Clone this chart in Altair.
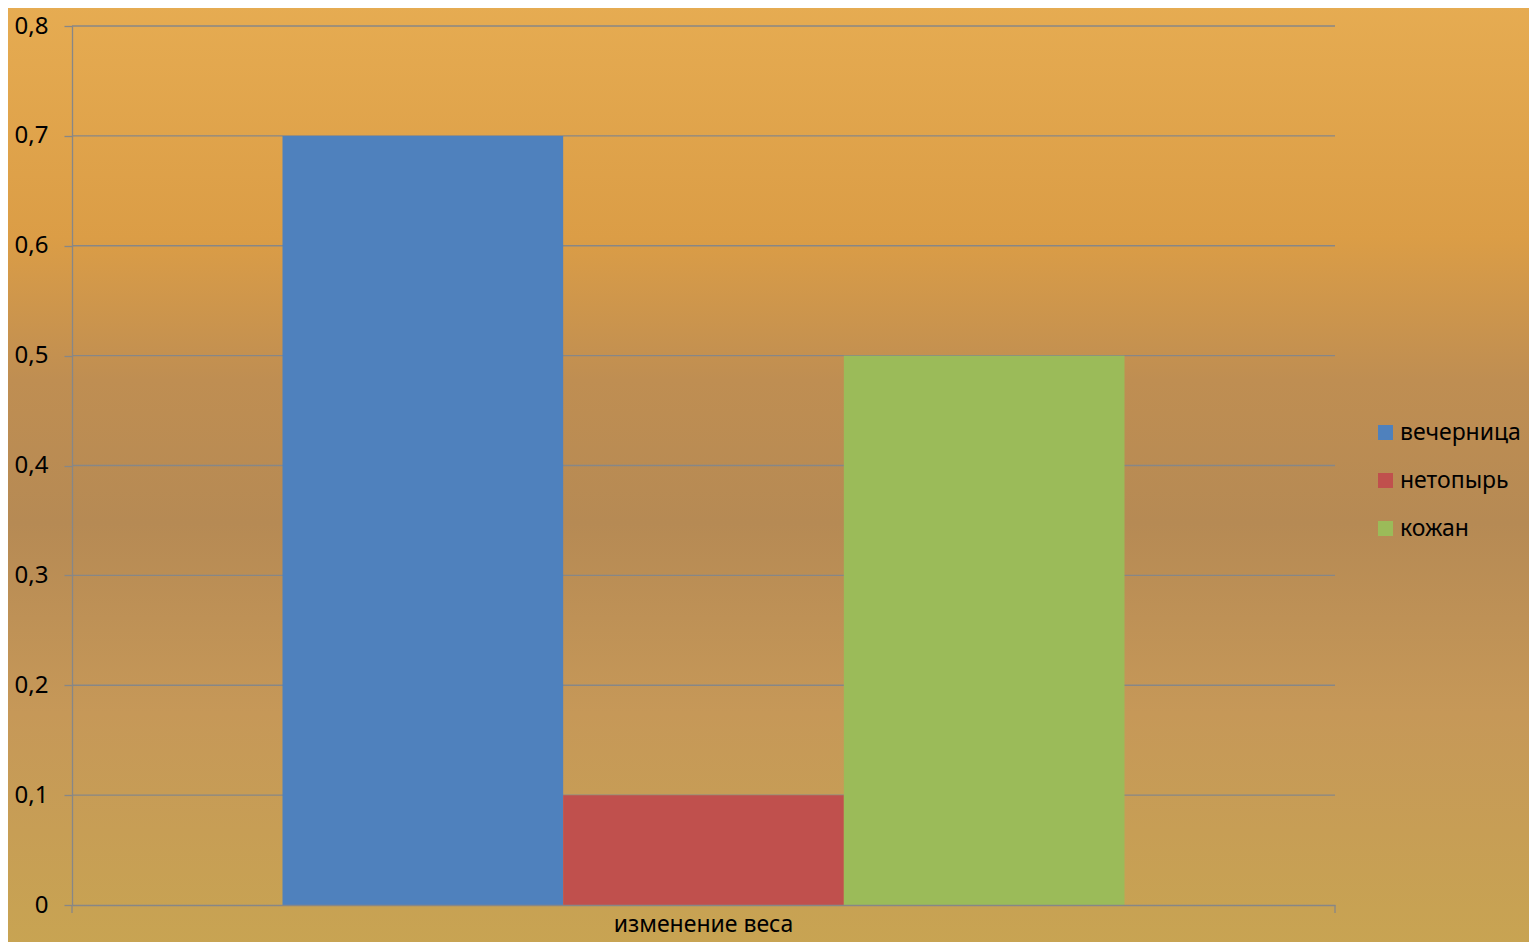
import altair as alt
import pandas as pd

category = ["изменение веса"]
series = ["вечерница", "нетопырь", "кожан"]
values = [0.7, 0.1, 0.5]
colors = ["#4F81BD", "#C0504D", "#9BBB59"]
y_ticks = [0, 0.1, 0.2, 0.3, 0.4, 0.5, 0.6, 0.7, 0.8]

df = pd.DataFrame({"cat": category * len(series), "series": series, "value": values})
ticks_df = pd.DataFrame({"t": y_ticks[1:]})

W, H = 1263, 879
PAD = {"left": 64, "top": 18, "right": 194, "bottom": 37}
FONT = "Noto Sans"
GRID = "#878787"

yscale = alt.Scale(domain=[0, 0.8], nice=False, zero=True)
yaxis = alt.Axis(values=y_ticks, grid=False, tickSize=8, tickColor=GRID, tickWidth=1.3,
                 domainColor=GRID, domainWidth=1.3, labelPadding=16, zindex=1,
                 labelFontSize=24, labelFont=FONT, labelColor="#000000",
                 labelExpr="datum.value == 0 ? '0' : replace(format(datum.value, '.1f'), '.', ',')")

bg = alt.Chart(pd.DataFrame({"a": [0]})).mark_rect(
    clip=False,
    fill=alt.Gradient(
        gradient="linear", x1=0, x2=0, y1=0, y2=1,
        stops=[
            alt.GradientStop(offset=0, color="#E6AC52"),
            alt.GradientStop(offset=0.25, color="#DB9D46"),
            alt.GradientStop(offset=0.4, color="#BF8E52"),
            alt.GradientStop(offset=0.55, color="#B68A54"),
            alt.GradientStop(offset=0.75, color="#C69858"),
            alt.GradientStop(offset=1, color="#C8A452"),
        ],
    ),
).encode(
    x=alt.value(-PAD["left"] - 8), x2=alt.value(W + PAD["right"] + 8),
    y=alt.value(-PAD["top"] - 8), y2=alt.value(H + PAD["bottom"] + 8),
)

grid = alt.Chart(ticks_df).mark_rule(color=GRID, strokeWidth=1.3).encode(
    y=alt.Y("t:Q", scale=yscale, title=None, axis=yaxis),
    x=alt.value(0), x2=alt.value(W),
)

bars = alt.Chart(df).mark_bar().encode(
    x=alt.X("cat:N", title=None, sort=category,
            scale=alt.Scale(paddingOuter=0.25, paddingInner=0),
            axis=alt.Axis(labelAngle=0, ticks=False, labelPadding=8, domainColor=GRID,
                          domainWidth=1.3, zindex=1, labelFontSize=23, labelFont=FONT,
                          labelColor="#000000")),
    xOffset=alt.XOffset("series:N", sort=series, scale=alt.Scale(paddingInner=0, paddingOuter=0)),
    y=alt.Y("value:Q", scale=yscale, title=None, axis=yaxis),
    color=alt.Color("series:N", sort=series, scale=alt.Scale(domain=series, range=colors),
                    legend=alt.Legend(title=None, orient="none", legendX=1302, legendY=395,
                                      symbolType="square", symbolSize=225, symbolStrokeWidth=0,
                                      labelFontSize=23, labelFont=FONT, labelColor="#000000",
                                      labelOffset=3, rowPadding=24, padding=0)),
)

xticks = alt.Chart(pd.DataFrame({"p": [0, W]})).mark_rule(color=GRID, strokeWidth=1.3).encode(
    x=alt.X("p:Q", scale=alt.Scale(domain=[0, W], range=[0, W]), axis=None),
    y=alt.value(H), y2=alt.value(H + 8),
)

chart = alt.layer(bg, grid, bars, xticks).resolve_scale(x="independent").properties(
    width=W, height=H, padding=PAD, autosize=alt.AutoSizeParams(type="none"),
    background="#CC9A50",
).configure_view(stroke=None)

chart.save("out.html", embed_options={"renderer": "svg", "actions": False})
